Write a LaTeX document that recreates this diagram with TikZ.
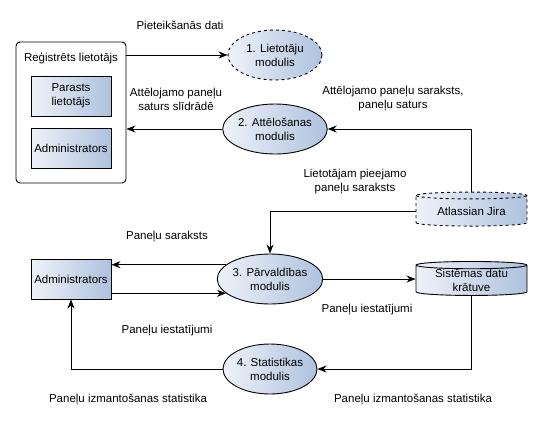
\documentclass[tikz,border=0pt]{standalone}
\usepackage{fontspec}
\setmainfont{Liberation Sans}
\usepackage{tikz}
\usetikzlibrary{arrows.meta, positioning, shapes.geometric}

\definecolor{gradLight}{HTML}{EEF2F9}
\definecolor{gradDark}{HTML}{AEC2DE}

\begin{document}
\begin{tikzpicture}[x=1pt, y=-1pt, line width=0.9pt,
        font=\fontsize{11.5}{14}\selectfont,
        modulis/.style={ellipse, draw, minimum width=94pt, minimum height=50pt, inner sep=0pt, align=center, left color=gradLight, right color=gradDark},
        lietotajs/.style={rectangle, draw, minimum width=80pt, minimum height=40pt, inner sep=1pt, align=center, left color=gradLight, right color=gradDark},
        kratuve/.style={cylinder, shape border rotate=90, aspect=0.1, draw, minimum width=111pt, minimum height=34pt, inner sep=0pt, align=center, left color=gradLight, right color=gradDark},
        plusma/.style={-{Stealth[length=9pt, width=7pt]}},
        teksts/.style={align=center}]
    \useasboundingbox (0,0) rectangle (541,424);
    % lietotaji
    \node[draw, rounded corners=4pt, minimum width=110pt, minimum height=141pt] (R) at (71,112.5) {};
    \node (Rnos) at (71,58) {Reģistrēts lietotājs};
    \node[lietotajs] (P) at (71,96) {Parasts\\lietotājs};
    \node[lietotajs] (A1) at (71,148) {Administrators};
    \node[lietotajs] (A2) at (71,279) {Administrators};
    % moduli
    \node[modulis, dashed] (M1) at (275,55) {1. Lietotāju\\modulis};
    \node[modulis] (M2) at (275,129) {2. Attēlošanas\\modulis};
    \node[modulis] (M3) at (270,279) {3. Pārvaldības\\modulis};
    \node[modulis] (M4) at (270,369) {4. Statistikas\\modulis};
    % kratuves
    \node[kratuve, dashed] (J) at (471.5,211) {Atlassian Jira};
    \node[kratuve] (S) at (471.5,280.5) {Sistēmas datu\\krātuve};

    \draw[plusma] (R.east |- M1.west) -- (M1.west);
    \draw[plusma] (M2.west) -- (R.east |- M2.west);
    \draw[plusma] (J.north) |- (M2.east);
    \draw[plusma] (J.west) -| (M3.north);
    \draw[plusma] (M3.162) -- (M3.162 -| A2.east);
    \draw[plusma] (A2.east |- M3.198) -- (M3.198);
    \draw[plusma] (M3.east) -- (M3.east -| S.west);
    \draw[plusma] (S.south) |- (M4.east);
    \draw[plusma] (M4.west) -| (A2.south);

    \node[teksts] (t1) at (180,25) {Pieteikšanās dati};
    \node[teksts] (t2) at (176,99) {Attēlojamo paneļu\\saturs slīdrādē};
    \node[teksts] (t3) at (393,99) {Attēlojamo paneļu saraksts,\\paneļu saturs};
    \node[teksts] (t4) at (355,182) {Lietotājam pieejamo\\paneļu saraksts};
    \node[teksts] (t5) at (167,237) {Paneļu saraksts};
    \node[teksts] (t6) at (367,310) {Paneļu iestatījumi};
    \node[teksts] (t7) at (167,331) {Paneļu iestatījumi};
    \node[teksts] (t8) at (128,400) {Paneļu izmantošanas statistika};
    \node[teksts] (t9) at (413,400) {Paneļu izmantošanas statistika};
\end{tikzpicture}
\end{document}
